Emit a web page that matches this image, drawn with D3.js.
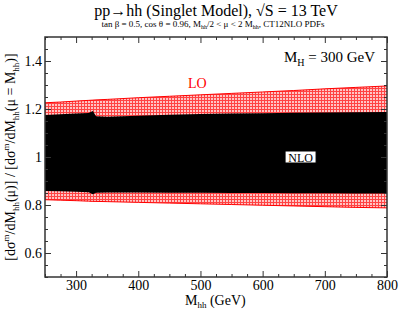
<!DOCTYPE html>
<html>
<head>
<meta charset="utf-8">
<script src="https://cdn.jsdelivr.net/npm/d3@7"></script>
<style>
  body { margin: 0; background: #fff; }
  svg text { font-family: 'Liberation Serif', 'Times New Roman', 'DejaVu Serif', serif !important; }
</style>
</head>
<body>
<div id="container"></div>
<script>
// data
const mhh    = [250, 275, 300, 320, 327, 332, 350, 400, 450, 500, 550, 600, 650, 700, 750, 800];
const loUp   = [1.226, 1.229, 1.233, 1.236, 1.237, 1.238, 1.240, 1.247, 1.253, 1.259, 1.265, 1.271, 1.277, 1.284, 1.290, 1.296];
const loLow  = [0.822, 0.820, 0.818, 0.816, 0.815, 0.815, 0.814, 0.811, 0.808, 0.805, 0.802, 0.799, 0.796, 0.793, 0.790, 0.788];
const nloUp  = [1.175, 1.178, 1.181, 1.183, 1.192, 1.170, 1.168, 1.172, 1.176, 1.179, 1.181, 1.182, 1.184, 1.185, 1.186, 1.187];
const nloLow = [0.858, 0.857, 0.855, 0.853, 0.845, 0.851, 0.852, 0.852, 0.851, 0.851, 0.850, 0.850, 0.849, 0.849, 0.848, 0.848];
const xTicks = [300, 400, 500, 600, 700, 800];
const yTicks = [0.6, 0.8, 1, 1.2, 1.4];

const W = 399, H = 311;
const margin = {top: 37, right: 12, bottom: 34, left: 45};
const width = W - margin.left - margin.right,
      height = H - margin.top - margin.bottom;

const svg = d3.select('#container').append('svg')
  .attr('width', W).attr('height', H)
  .attr('font-family', 'Liberation Serif');

// checkered pattern for LO band
const defs = svg.append('defs');
const pat = defs.append('pattern')
  .attr('id', 'check').attr('patternUnits', 'userSpaceOnUse')
  .attr('width', 3).attr('height', 3);
pat.append('rect').attr('width', 3).attr('height', 3).attr('fill', '#ff4444');
pat.append('rect').attr('x', 1).attr('y', 1).attr('width', 2).attr('height', 2).attr('fill', '#ffc4c4');

const g = svg.append('g').attr('transform', `translate(${margin.left},${margin.top})`);

const x = d3.scaleLinear().domain([250, 800]).range([0, width]);
const y = d3.scaleLinear().domain([0.5, 1.5]).range([height, 0]);

const rows = mhh.map((m, i) => ({m: m, lu: loUp[i], ll: loLow[i], nu: nloUp[i], nl: nloLow[i]}));

// LO band
g.append('path').datum(rows)
  .attr('d', d3.area().x(d => x(d.m)).y0(d => y(d.ll)).y1(d => y(d.lu)))
  .attr('fill', 'url(#check)');
g.append('path').datum(rows)
  .attr('d', d3.line().x(d => x(d.m)).y(d => y(d.lu)))
  .attr('fill', 'none').attr('stroke', '#ff0000').attr('stroke-width', 1);
g.append('path').datum(rows)
  .attr('d', d3.line().x(d => x(d.m)).y(d => y(d.ll)))
  .attr('fill', 'none').attr('stroke', '#ff0000').attr('stroke-width', 1);

// NLO band
g.append('path').datum(rows)
  .attr('d', d3.area().x(d => x(d.m)).y0(d => y(d.nl)).y1(d => y(d.nu)))
  .attr('fill', '#000');

// axes, ticks inside, mirrored
function styleAxis(sel) {
  sel.attr('font-family', 'Liberation Serif');
  sel.selectAll('path').remove();
  sel.selectAll('line').attr('stroke', '#333');
  sel.selectAll('text').attr('font-size', 14).attr('fill', '#000')
    .attr('font-family', 'Liberation Serif');
}
const minorX = d3.range(250, 801, 25).filter(v => !xTicks.includes(v));
const minorY = d3.range(0.5, 1.501, 0.05).map(v => +v.toFixed(2)).filter(v => !yTicks.includes(v));

g.append('g').attr('transform', `translate(0,${height})`)
  .call(d3.axisBottom(x).tickValues(xTicks).tickSize(-6).tickPadding(3).tickFormat(d3.format('d')))
  .call(styleAxis);
g.append('g').attr('transform', `translate(0,${height})`)
  .call(d3.axisBottom(x).tickValues(minorX).tickSize(-3).tickFormat(''))
  .call(styleAxis);
g.append('g')
  .call(d3.axisTop(x).tickValues(xTicks).tickSize(-6).tickFormat(''))
  .call(styleAxis);
g.append('g')
  .call(d3.axisTop(x).tickValues(minorX).tickSize(-3).tickFormat(''))
  .call(styleAxis);

g.append('g')
  .call(d3.axisLeft(y).tickValues(yTicks).tickSize(-6).tickPadding(3).tickFormat(d => d === 1 ? '1' : d3.format('.1f')(d)))
  .call(styleAxis);
g.append('g')
  .call(d3.axisLeft(y).tickValues(minorY).tickSize(-3).tickFormat(''))
  .call(styleAxis);
g.append('g').attr('transform', `translate(${width},0)`)
  .call(d3.axisRight(y).tickValues(yTicks).tickSize(-6).tickFormat(''))
  .call(styleAxis);
g.append('g').attr('transform', `translate(${width},0)`)
  .call(d3.axisRight(y).tickValues(minorY).tickSize(-3).tickFormat(''))
  .call(styleAxis);

// frame
g.append('rect').attr('width', width).attr('height', height)
  .attr('fill', 'none').attr('stroke', '#333').attr('stroke-width', 1.5);

// labels inside plot
g.append('text').attr('x', x(480)).attr('y', y(1.2) - 21)
  .attr('font-size', 14).attr('fill', '#ff0000').text('LO');

const nlo = g.append('g').attr('transform', `translate(${x(661)},${y(1.0)})`);
nlo.append('rect').attr('x', -15.5).attr('y', -6).attr('width', 31).attr('height', 12)
  .attr('fill', '#fff').attr('stroke', '#000').attr('stroke-width', 1);
nlo.append('text').attr('text-anchor', 'middle').attr('y', 4.5)
  .attr('font-size', 12).text('NLO');

const mh = g.append('text').attr('x', width - 12).attr('y', 25)
  .attr('text-anchor', 'end').attr('font-size', 15);
mh.append('tspan').text('M');
mh.append('tspan').attr('font-size', 10).attr('dy', 4).text('H');
mh.append('tspan').attr('dy', -4).text(' = 300 GeV');

// title
svg.append('text').attr('x', 216).attr('y', 16).attr('text-anchor', 'middle')
  .attr('font-size', 16).text('pp\u2192hh (Singlet Model), \u221AS = 13 TeV');

const sub = svg.append('text').attr('x', 213).attr('y', 27).attr('text-anchor', 'middle')
  .attr('font-size', 9);
sub.append('tspan').text('tan \u03B2  = 0.5, cos \u03B8 = 0.96, M');
sub.append('tspan').attr('font-size', 6).attr('dy', 2).text('hh');
sub.append('tspan').attr('dy', -2).text('/2 <  \u03BC < 2 M');
sub.append('tspan').attr('font-size', 6).attr('dy', 2).text('hh');
sub.append('tspan').attr('dy', -2).text(', CT12NLO PDFs');

// x label
const xl = svg.append('text').attr('x', 185).attr('y', 305).attr('font-size', 14);
xl.append('tspan').text('M');
xl.append('tspan').attr('font-size', 9).attr('dy', 3).text('hh');
xl.append('tspan').attr('dy', -3).text(' (GeV)');

// y label
const yl = svg.append('text').attr('transform', 'translate(15,157) rotate(-90)')
  .attr('text-anchor', 'middle').attr('font-size', 14);
yl.append('tspan').text('[d\u03C3');
yl.append('tspan').attr('font-size', 9).attr('dy', -6).text('m');
yl.append('tspan').attr('dy', 6).text('/dM');
yl.append('tspan').attr('font-size', 9).attr('dy', 4).text('hh');
yl.append('tspan').attr('dy', -4).text('(\u03BC)] / [d\u03C3');
yl.append('tspan').attr('font-size', 9).attr('dy', -6).text('m');
yl.append('tspan').attr('dy', 6).text('/dM');
yl.append('tspan').attr('font-size', 9).attr('dy', 4).text('hh');
yl.append('tspan').attr('dy', -4).text('(\u03BC = M');
yl.append('tspan').attr('font-size', 9).attr('dy', 4).text('hh');
yl.append('tspan').attr('dy', -4).text(')]');
</script>
</body>
</html>
